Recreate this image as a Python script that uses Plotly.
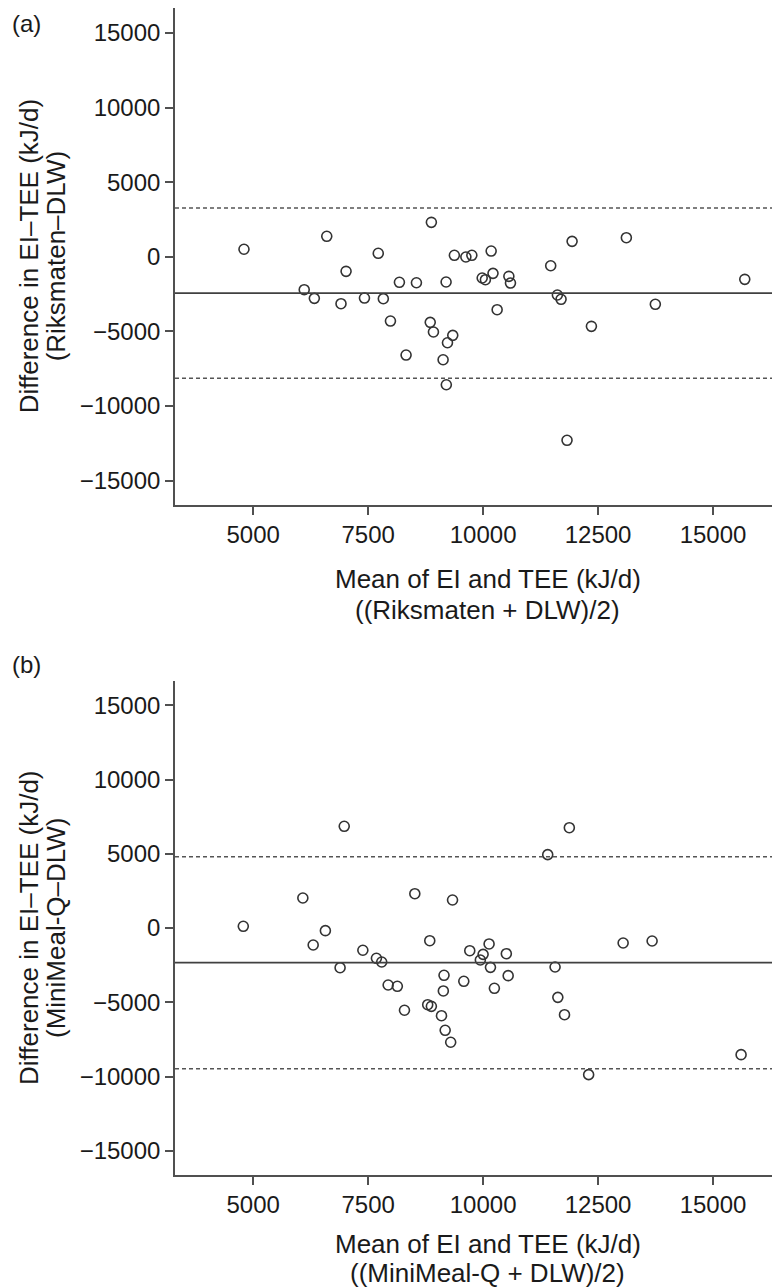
import plotly.graph_objects as go

# ---- data ----
mean_a = [4800, 6600, 7020, 6110, 6330, 6910, 7420, 7720, 7830, 7985,
          8180, 8550, 8325, 8875, 8850, 8920, 9195, 9130, 9200, 9225,
          9340, 9375, 9625, 9755, 10175, 9980, 10050, 10215, 10560, 10595,
          10305, 11470, 11935, 11615, 11695, 12355, 13115, 13745, 15690, 11825]
diff_a = [500, 1370, -980, -2210, -2790, -3150, -2770, 230, -2815, -4310,
          -1715, -1745, -6590, 2305, -4400, -5045, -1695, -6905, -8580, -5765,
          -5270, 95, -20, 95, 380, -1425, -1540, -1115, -1315, -1765,
          -3550, -605, 1030, -2565, -2855, -4665, 1275, -3190, -1515, -12305]

mean_b = [6980, 4785, 6080, 6570, 6305, 6890, 7385, 7680, 7795, 7935,
          8135, 8290, 8515, 8840, 8795, 8875, 9150, 9135, 9095, 9175,
          9295, 9335, 9580, 9710, 9940, 10000, 10130, 10160, 10505, 10245,
          10545, 11405, 11875, 11565, 11625, 11770, 12295, 13045, 13675, 15610]
diff_b = [6850, 115, 2020, -180, -1145, -2675, -1500, -2040, -2290, -3840,
          -3925, -5540, 2310, -855, -5165, -5275, -3185, -4240, -5905, -6890,
          -7695, 1885, -3590, -1530, -2155, -1775, -1075, -2650, -1730, -4060,
          -3210, 4940, 6755, -2625, -4670, -5840, -9875, -1010, -875, -8530]

bias_a, upper_a, lower_a = -2440, 3265, -8145
bias_b, upper_b, lower_b = -2335, 4800, -9470

x_ticks = [5000, 7500, 10000, 12500, 15000]
y_ticks = [-15000, -10000, -5000, 0, 5000, 10000, 15000]
x_ticktext = [str(v) for v in x_ticks]
y_ticktext = [str(v).replace("-", "\u2212") for v in y_ticks]

panel_labels = ["(a)", "(b)"]
ytitle_a = ["Difference in EI\u2013TEE (kJ/d)", "(Riksmaten\u2013DLW)"]
ytitle_b = ["Difference in EI\u2013TEE (kJ/d)", "(MiniMeal-Q\u2013DLW)"]
xtitle_a = ["Mean of EI and TEE (kJ/d)", "((Riksmaten + DLW)/2)"]
xtitle_b = ["Mean of EI and TEE (kJ/d)", "((MiniMeal-Q + DLW)/2)"]

# ---- layout geometry (pixels) ----
W, H = 780, 1288
ML, MR, MT, MB = 167, 0, 0, 121
PH = H - MT - MB
PW = W - ML - MR


def py(p):
    return 1 - (p - MT) / PH


def px(p):
    return (p - ML) / PW


FONT = "Liberation Sans, Arial, Helvetica, sans-serif"
TXT = "#1a1a1a"
AX = "#505050"
MK = "#333333"
TICK_SIZE = 24
TITLE_SIZE = 26

fig = go.Figure()
fig.add_trace(go.Scatter(x=mean_a, y=diff_a, mode="markers", xaxis="x", yaxis="y",
                         marker=dict(symbol="circle-open", size=10, color=MK,
                                     line=dict(width=1.6, color=MK)),
                         showlegend=False, hoverinfo="skip"))
fig.add_trace(go.Scatter(x=mean_b, y=diff_b, mode="markers", xaxis="x2", yaxis="y2",
                         marker=dict(symbol="circle-open", size=10, color=MK,
                                     line=dict(width=1.6, color=MK)),
                         showlegend=False, hoverinfo="skip"))

for (xr, yr, vals) in [("x", "y", (bias_a, upper_a, lower_a)),
                       ("x2", "y2", (bias_b, upper_b, lower_b))]:
    b, u, l = vals
    fig.add_shape(type="line", xref=f"{xr} domain", yref=yr, x0=0, x1=1, y0=b, y1=b,
                  line=dict(color="#404040", width=1.6))
    for v in (u, l):
        fig.add_shape(type="line", xref=f"{xr} domain", yref=yr, x0=0, x1=1, y0=v, y1=v,
                      line=dict(color="#555555", width=1.5, dash="4px,3px"))

axis_common = dict(showline=True, linecolor=AX, linewidth=1.6, ticks="outside",
                   ticklen=8, tickwidth=1.5, tickcolor=AX, showgrid=False,
                   zeroline=False, mirror=False, tickmode="array",
                   tickfont=dict(family=FONT, size=TICK_SIZE, color=TXT))

top_a, bot_a = 0, 496.7
top_b, bot_b = 673.2, 1166.8

fig.update_layout(
    width=W, height=H,
    margin=dict(l=ML, r=MR, t=MT, b=MB),
    paper_bgcolor="white", plot_bgcolor="white",
    xaxis=dict(axis_common, domain=[0, 1], range=[3300, 16630], tickvals=x_ticks,
               ticktext=x_ticktext, anchor="y"),
    yaxis=dict(axis_common, domain=[py(bot_a), py(top_a)], range=[-16620, 16670],
               tickvals=y_ticks, ticktext=y_ticktext, anchor="x"),
    xaxis2=dict(axis_common, domain=[0, 1], range=[3300, 16630], tickvals=x_ticks,
                ticktext=x_ticktext, anchor="y2"),
    yaxis2=dict(axis_common, domain=[py(bot_b), py(top_b)], range=[-16620, 16620],
                tickvals=y_ticks, ticktext=y_ticktext, anchor="x2"),
    font=dict(family=FONT, size=TICK_SIZE, color=TXT),
)

ann = []
# panel labels
ann.append(dict(text=panel_labels[0], x=px(2), y=py(0), xanchor="left", yanchor="top",
                size=TICK_SIZE))
ann.append(dict(text=panel_labels[1], x=px(2), y=py(641), xanchor="left", yanchor="top",
                size=TICK_SIZE))
# y titles
for lines, top, bot in [(ytitle_a, top_a, bot_a), (ytitle_b, top_b, bot_b)]:
    cy = py((top + bot) / 2)
    ann.append(dict(text=lines[0], x=px(21), y=cy, textangle=-90,
                    xanchor="center", yanchor="middle", size=TITLE_SIZE))
    ann.append(dict(text=lines[1], x=px(48), y=cy, textangle=-90,
                    xanchor="center", yanchor="middle", size=TITLE_SIZE))
# x titles
cx = px(480)
ann.append(dict(text=xtitle_a[0], x=cx, y=py(bot_a + 74), xanchor="center",
                yanchor="middle", size=TITLE_SIZE))
ann.append(dict(text=xtitle_a[1], x=cx, y=py(bot_a + 105), xanchor="center",
                yanchor="middle", size=TITLE_SIZE))
ann.append(dict(text=xtitle_b[0], x=cx, y=py(bot_b + 69), xanchor="center",
                yanchor="middle", size=TITLE_SIZE))
ann.append(dict(text=xtitle_b[1], x=cx, y=py(bot_b + 98), xanchor="center",
                yanchor="middle", size=TITLE_SIZE))

annotations = []
for a in ann:
    s = a.pop("size")
    annotations.append(dict(a, xref="paper", yref="paper", showarrow=False,
                            font=dict(family=FONT, size=s, color=TXT)))
fig.update_layout(annotations=annotations)

fig.write_html("out.html")
